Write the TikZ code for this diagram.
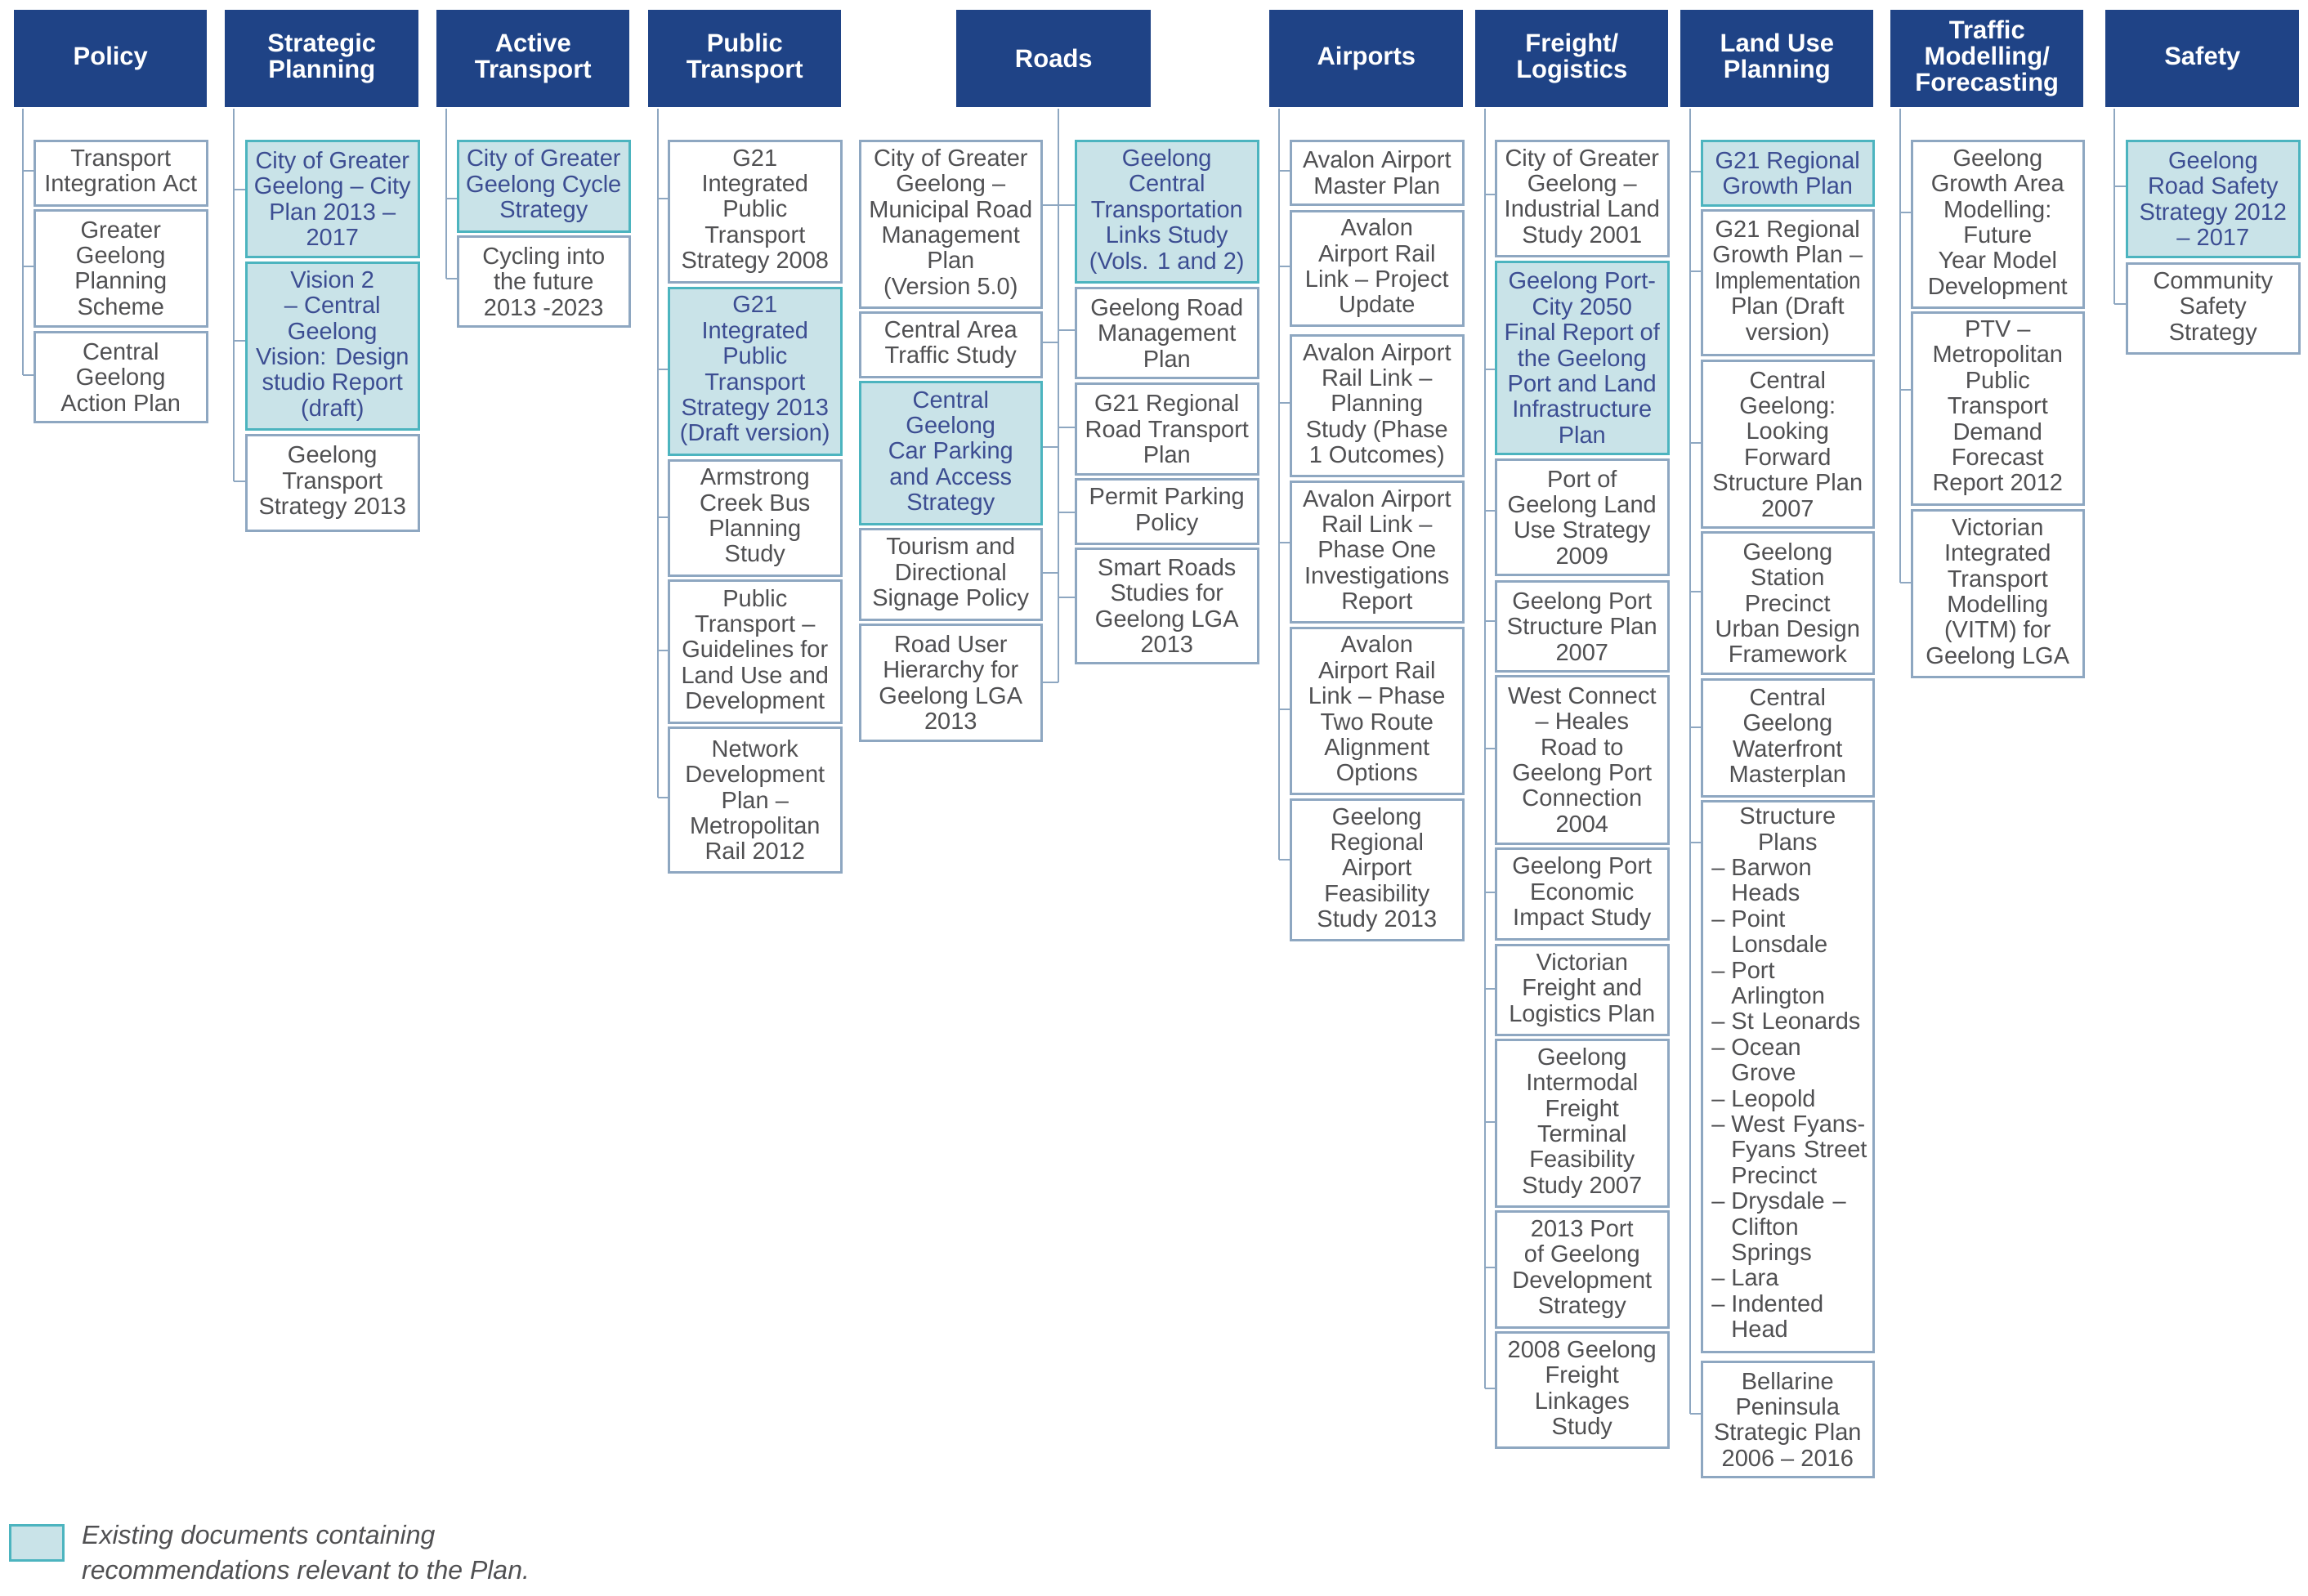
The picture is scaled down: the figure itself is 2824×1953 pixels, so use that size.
\documentclass[tikz,border=0pt]{standalone}
\usepackage{fontspec}
\setmainfont{Liberation Sans}
\usepackage{graphicx}
\usetikzlibrary{backgrounds}
\definecolor{hdrblue}{HTML}{1F4386}
\definecolor{lineblue}{HTML}{8EA7C1}
\definecolor{hlfill}{HTML}{C9E3E8}
\definecolor{hlborder}{HTML}{4CB4BF}
\definecolor{txtgray}{HTML}{505052}
\definecolor{hltext}{HTML}{3C4D92}
\tikzset{
  base/.style={rectangle, anchor=north west, align=center, inner xsep=1pt, inner ysep=0pt, line width=2.6pt},
  doc/.style={base, draw=lineblue, fill=white, text=txtgray, font=\fontsize{29}{31.4}\selectfont},
  hl/.style={base, draw=hlborder, fill=hlfill, text=hltext, font=\fontsize{29}{31.4}\selectfont},
  hdr/.style={base, fill=hdrblue, text=white, font=\fontsize{31}{32}\selectfont\bfseries},
  link/.style={draw=lineblue, line width=2.6pt},
  legendtext/.style={anchor=north west, inner sep=0pt, align=left, text=txtgray, font=\fontsize{32}{43}\selectfont\itshape}
}
\newcommand\bx[7]{\node[#2, minimum width={(#5-#3)*1pt}, minimum height={(#6-#4)*1pt}] (#1) at (#3,#4) {#7};}
\newcommand\connW[3]{\draw[link] (#2,#3) -- (#1.west |- #2,#3);}
\newcommand\connE[3]{\draw[link] (#2,#3) -- (#1.east |- #2,#3);}
\newcommand\mytrunk[3]{\draw[link] (#1.south -| #2,0) -- (#2,#3);}
\begin{document}
\begin{tikzpicture}[x=1pt,y=-1pt]
\useasboundingbox (0,0) rectangle (2824,1953);
% headers
\bx{hP}{hdr}{16}{11}{252}{130}{Policy}
\bx{hS}{hdr}{274}{11}{511}{130}{Strategic\\Planning}
\bx{hA}{hdr}{533}{11}{769}{130}{Active\\Transport}
\bx{hU}{hdr}{792}{11}{1028}{130}{Public\\Transport}
\bx{hR}{hdr}{1169}{11}{1407}{130}{Roads}
\bx{hI}{hdr}{1552}{11}{1789}{130}{Airports}
\bx{hF}{hdr}{1804}{11}{2040}{130}{Freight/\\Logistics}
\bx{hL}{hdr}{2055}{11}{2291}{130}{Land Use\\Planning}
\bx{hT}{hdr}{2312}{11}{2548}{130}{Traffic\\Modelling/\\Forecasting}
\bx{hY}{hdr}{2575}{11}{2812}{130}{Safety}
% Policy
\bx{p1}{doc}{41}{171}{252}{250}{Transport\\Integration Act}
\bx{p2}{doc}{41}{256}{252}{398}{Greater\\Geelong\\Planning\\Scheme}
\bx{p3}{doc}{41}{405}{252}{515}{Central\\Geelong\\Action Plan}
% Strategic
\bx{s1}{hl}{300}{171}{511}{313}{City of Greater\\Geelong – City\\Plan 2013 –\\2017}
\bx{s2}{hl}{300}{320}{511}{524}{Vision 2\\– Central\\Geelong\\Vision: Design\\studio Report\\(draft)}
\bx{s3}{doc}{300}{531}{511}{648}{Geelong\\Transport\\Strategy 2013}
% Active
\bx{a1}{hl}{559}{171}{769}{282}{City of Greater\\Geelong Cycle\\Strategy}
\bx{a2}{doc}{559}{288}{769}{398}{Cycling into\\the future\\2013 -2023}
% Public
\bx{u1}{doc}{817}{171}{1028}{344}{G21\\Integrated\\Public\\Transport\\Strategy 2008}
\bx{u2}{hl}{817}{351}{1028}{555}{G21\\Integrated\\Public\\Transport\\Strategy 2013\\(Draft version)}
\bx{u3}{doc}{817}{562}{1028}{703}{Armstrong\\Creek Bus\\Planning\\Study}
\bx{u4}{doc}{817}{709}{1028}{883}{Public\\Transport –\\Guidelines for\\Land Use and\\Development}
\bx{u5}{doc}{817}{889}{1028}{1066}{Network\\Development\\Plan –\\Metropolitan\\Rail 2012}
% Roads
\bx{r1}{doc}{1051}{171}{1273}{375}{City of Greater\\Geelong –\\Municipal Road\\Management\\Plan\\(Version 5.0)}
\bx{r2}{doc}{1051}{381}{1273}{460}{Central Area\\Traffic Study}
\bx{r3}{hl}{1051}{466}{1273}{640}{Central\\Geelong\\Car Parking\\and Access\\Strategy}
\bx{r4}{doc}{1051}{646}{1273}{757}{Tourism and\\Directional\\Signage Policy}
\bx{r5}{doc}{1051}{763}{1273}{905}{Road User\\Hierarchy for\\Geelong LGA\\2013}
\bx{r6}{hl}{1315}{171}{1538}{344}{Geelong\\Central\\Transportation\\Links Study\\(Vols. 1 and 2)}
\bx{r7}{doc}{1315}{351}{1538}{461}{Geelong Road\\Management\\Plan}
\bx{r8}{doc}{1315}{468}{1538}{579}{G21 Regional\\Road Transport\\Plan}
\bx{r9}{doc}{1315}{585}{1538}{664}{Permit Parking\\Policy}
\bx{r10}{doc}{1315}{670}{1538}{810}{Smart Roads\\Studies for\\Geelong LGA\\2013}
% Airports
\bx{i1}{doc}{1578}{171}{1789}{249}{Avalon Airport\\Master Plan}
\bx{i2}{doc}{1578}{257}{1789}{397}{Avalon\\Airport Rail\\Link – Project\\Update}
\bx{i3}{doc}{1578}{409}{1789}{581}{Avalon Airport\\Rail Link –\\Planning\\Study (Phase\\1 Outcomes)}
\bx{i4}{doc}{1578}{588}{1789}{760}{Avalon Airport\\Rail Link –\\Phase One\\Investigations\\Report}
\bx{i5}{doc}{1578}{767}{1789}{970}{Avalon\\Airport Rail\\Link – Phase\\Two Route\\Alignment\\Options}
\bx{i6}{doc}{1578}{977}{1789}{1149}{Geelong\\Regional\\Airport\\Feasibility\\Study 2013}
% Freight
\bx{f1}{doc}{1829}{171}{2040}{312}{City of Greater\\Geelong –\\Industrial Land\\Study 2001}
\bx{f2}{hl}{1829}{319}{2040}{554}{Geelong Port-\\City 2050\\Final Report of\\the Geelong\\Port and Land\\Infrastructure\\Plan}
\bx{f3}{doc}{1829}{561}{2040}{702}{Port of\\Geelong Land\\Use Strategy\\2009}
\bx{f4}{doc}{1829}{710}{2040}{820}{Geelong Port\\Structure Plan\\2007}
\bx{f5}{doc}{1829}{826}{2040}{1031}{West Connect\\– Heales\\Road to\\Geelong Port\\Connection\\2004}
\bx{f6}{doc}{1829}{1037}{2040}{1148}{Geelong Port\\Economic\\Impact Study}
\bx{f7}{doc}{1829}{1155}{2040}{1265}{Victorian\\Freight and\\Logistics Plan}
\bx{f8}{doc}{1829}{1271}{2040}{1475}{Geelong\\Intermodal\\Freight\\Terminal\\Feasibility\\Study 2007}
\bx{f9}{doc}{1829}{1481}{2040}{1623}{2013 Port\\of Geelong\\Development\\Strategy}
\bx{f10}{doc}{1829}{1629}{2040}{1770}{2008 Geelong\\Freight\\Linkages\\Study}
% Land use
\bx{l1}{hl}{2081}{171}{2291}{250}{G21 Regional\\Growth Plan}
\bx{l2}{doc}{2081}{256}{2291}{433}{G21 Regional\\Growth Plan –\\\scalebox{0.9}[1]{Implementation}\\Plan (Draft\\version)}
\bx{l3}{doc}{2081}{440}{2291}{644}{Central\\Geelong:\\Looking\\Forward\\Structure Plan\\2007}
\bx{l4}{doc}{2081}{650}{2291}{823}{Geelong\\Station\\Precinct\\Urban Design\\Framework}
\bx{l5}{doc}{2081}{830}{2291}{973}{Central\\Geelong\\Waterfront\\Masterplan}
\bx{l6}{doc, inner xsep=12pt, text width=186pt, align=left}{2081}{979}{2291}{1653}{{\centering Structure\\Plans\par}\noindent\begin{tabular}[t]{@{}l@{\hspace{8pt}}l@{}}–&Barwon\\&Heads\\–&Point\\&Lonsdale\\–&Port\\&Arlington\\–&St Leonards\\–&Ocean\\&Grove\\–&Leopold\\–&West Fyans-\\&Fyans Street\\&Precinct\\–&Drysdale –\\&Clifton\\&Springs\\–&Lara\\–&Indented\\&Head\end{tabular}}
\bx{l7}{doc}{2081}{1665}{2291}{1806}{Bellarine\\Peninsula\\Strategic Plan\\2006 – 2016}
% Traffic
\bx{t1}{doc}{2338}{171}{2548}{375}{Geelong\\Growth Area\\Modelling:\\Future\\Year Model\\Development}
\bx{t2}{doc}{2338}{381}{2548}{616}{PTV –\\Metropolitan\\Public\\Transport\\Demand\\Forecast\\Report 2012}
\bx{t3}{doc}{2338}{623}{2548}{827}{Victorian\\Integrated\\Transport\\Modelling\\(VITM) for\\Geelong LGA}
% Safety
\bx{y1}{hl}{2601}{171}{2812}{313}{Geelong\\Road Safety\\Strategy 2012\\– 2017}
\bx{y2}{doc}{2601}{321}{2812}{431}{Community\\Safety\\Strategy}
% legend
\bx{lg}{hl}{11}{1865}{76}{1908}{}
\node[legendtext] (lgt) at (100,1866) {Existing documents containing\\recommendations relevant to the Plan.};
\begin{pgfonlayer}{background}
\fill[white] (0,0) rectangle (2824,1953);
\mytrunk{hP}{28}{459}
\connW{p1}{28}{209}\connW{p2}{28}{326}\connW{p3}{28}{459}
\mytrunk{hS}{286}{589}
\connW{s1}{286}{232}\connW{s2}{286}{417}\connW{s3}{286}{589}
\mytrunk{hA}{546}{341}
\connW{a1}{546}{243}\connW{a2}{546}{341}
\mytrunk{hU}{805}{976}
\connW{u1}{805}{243}\connW{u2}{805}{452}\connW{u3}{805}{633}\connW{u4}{805}{796}\connW{u5}{805}{976}
\mytrunk{hR}{1295}{835}
\connE{r1}{1295}{251}\connE{r2}{1295}{419}\connE{r3}{1295}{547}\connE{r4}{1295}{701}\connE{r5}{1295}{835}
\connW{r6}{1295}{251}\connW{r7}{1295}{404}\connW{r8}{1295}{523}\connW{r9}{1295}{627}\connW{r10}{1295}{731}
\mytrunk{hI}{1565}{1052}
\connW{i1}{1565}{209}\connW{i2}{1565}{326}\connW{i3}{1565}{493}\connW{i4}{1565}{664}\connW{i5}{1565}{868}\connW{i6}{1565}{1052}
\mytrunk{hF}{1817}{1699}
\connW{f1}{1817}{238}\connW{f2}{1817}{452}\connW{f3}{1817}{625}\connW{f4}{1817}{760}\connW{f5}{1817}{916}
\connW{f6}{1817}{1092}\connW{f7}{1817}{1210}\connW{f8}{1817}{1373}\connW{f9}{1817}{1551}\connW{f10}{1817}{1699}
\mytrunk{hL}{2068}{1730}
\connW{l1}{2068}{210}\connW{l2}{2068}{332}\connW{l3}{2068}{542}\connW{l4}{2068}{724}\connW{l5}{2068}{890}\connW{l6}{2068}{1031}\connW{l7}{2068}{1730}
\mytrunk{hT}{2325}{713}
\connW{t1}{2325}{260}\connW{t2}{2325}{477}\connW{t3}{2325}{713}
\mytrunk{hY}{2587}{372}
\connW{y1}{2587}{228}\connW{y2}{2587}{372}
\end{pgfonlayer}
\end{tikzpicture}
\end{document}
